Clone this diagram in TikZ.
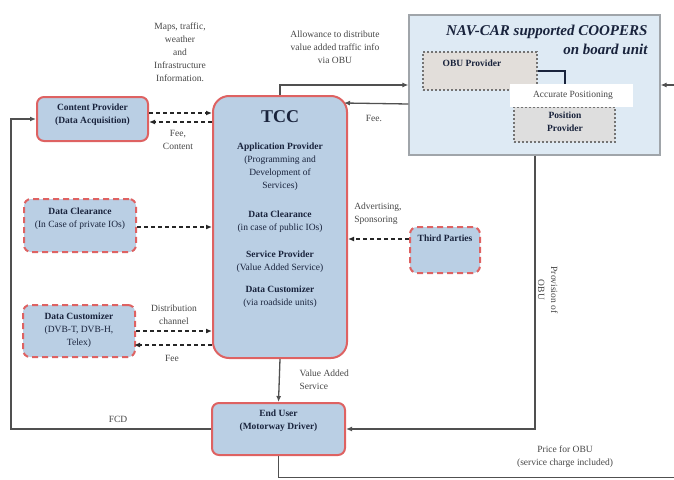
\documentclass[tikz,border=0pt]{standalone}
\usepackage{fontspec}
\setmainfont{Liberation Serif}
\usetikzlibrary{arrows.meta,calc}
\definecolor{boxblue}{RGB}{186,207,228}
\definecolor{redb}{RGB}{222,98,98}
\definecolor{navfill}{RGB}{222,234,244}
\definecolor{navedge}{RGB}{160,165,170}
\definecolor{obufill}{RGB}{226,222,218}
\definecolor{ppfill}{RGB}{222,222,222}
\definecolor{ink}{RGB}{25,35,60}
\definecolor{lab}{RGB}{70,70,70}
\definecolor{wire}{RGB}{80,80,80}
\begin{document}
\begin{tikzpicture}[x=1pt,y=-1pt,
  font=\fontsize{9.5}{13}\selectfont,
  solidbox/.style={draw=redb, line width=2pt, fill=boxblue, rounded corners=7pt, inner sep=0pt},
  dashbox/.style={solidbox, dash pattern=on 6pt off 4pt},
  bigbox/.style={solidbox, rounded corners=16pt},
  dotbox/.style={draw=wire!80, line width=1.3pt, dash pattern=on 2pt off 2pt, inner sep=0pt},
  intext/.style={align=center, text=ink},
  lbl/.style={align=center, text=lab},
  conn/.style={draw=wire, line width=1.3pt, -{Latex[length=6pt,width=5pt]}},
  dconn/.style={draw=black!85, line width=1.2pt, dash pattern=on 4pt off 3pt, -{Latex[length=6pt,width=5pt]}}
]
\useasboundingbox (0,0) rectangle (674,479);

% NAV-CAR unit
\node[draw=navedge, line width=1.2pt, fill=navfill, minimum width=251pt, minimum height=140pt, inner sep=0pt] (nav) at (534.5,85) {};
\node[anchor=east, font=\bfseries\itshape\fontsize{15}{19}\selectfont, text=ink, align=right] (navt) at (651,40) {NAV-CAR supported COOPERS\\on board unit};
\node[dotbox, fill=obufill, minimum width=114pt, minimum height=38pt] (obu) at (480,71) {};
\node[intext, font=\bfseries\fontsize{9.5}{13}\selectfont] (obut) at (472,63) {OBU Provider};
\node[dotbox, fill=ppfill, minimum width=101pt, minimum height=35pt] (pp) at (564.5,124.5) {};
\node[intext, font=\bfseries\fontsize{9.5}{13}\selectfont] (ppt) at (565,122) {Position\\Provider};
\node[fill=white, minimum width=123pt, minimum height=23pt, inner sep=0pt] (ap) at (571.5,95.5) {};
\node[lbl, text=lab] (apt) at (573,95.5) {Accurate Positioning};
\coordinate (brx) at (565,0);
\draw[line width=1.6pt, draw=ink] (obu.east) -| (ap.north -| brx);

% main boxes
\node[solidbox, minimum width=111pt, minimum height=44pt] (cp) at (92.5,119) {};
\node[intext, font=\bfseries\fontsize{9.5}{13}\selectfont] (cpt) at (92.5,115) {Content Provider\\(Data Acquisition)};

\node[bigbox, minimum width=134pt, minimum height=262pt] (tcc) at (280,227) {};
\node[text=ink, font=\bfseries\fontsize{18}{20}\selectfont] (tcct) at (280,117) {TCC};
\node[intext] (t1) at (280,166.5) {\textbf{Application Provider}\\(Programming and\\Development of\\Services)};
\node[intext] (t2) at (280,221.5) {\textbf{Data Clearance}\\(in case of public IOs)};
\node[intext] (t3) at (280,261.5) {\textbf{Service Provider}\\(Value Added Service)};
\node[intext] (t4) at (280,297) {\textbf{Data Customizer}\\(via roadside units)};

\node[dashbox, minimum width=112pt, minimum height=53pt] (dcl) at (80,225.5) {};
\node[intext] (dclt) at (80,218.5) {\textbf{Data Clearance}\\(In Case of private IOs)};

\node[dashbox, minimum width=112pt, minimum height=52pt] (dcu) at (79,331) {};
\node[intext] (dcut) at (79,330) {\textbf{Data Customizer}\\(DVB-T, DVB-H,\\Telex)};

\node[dashbox, minimum width=70pt, minimum height=46pt] (tp) at (445,250) {};
\node[intext, font=\bfseries\fontsize{9.5}{13}\selectfont] (tpt) at (445,238) {Third Parties};

\node[solidbox, minimum width=133pt, minimum height=52pt] (eu) at (278.5,429) {};
\node[intext, font=\bfseries\fontsize{9.5}{13}\selectfont] (eut) at (278.5,421) {End User\\(Motorway Driver)};

% helper coordinates
\coordinate (lft) at (11,0);
\coordinate (rx) at (535,0);
\coordinate (br) at (676,477.5);
\coordinate (cpy1) at (0,113);
\coordinate (cpy2) at (0,122);
\coordinate (dcly) at (0,227);
\coordinate (tpy) at (0,239);
\coordinate (dcy2) at (0,345);
\coordinate (feey) at (0,104);

% connectors
\draw[conn] (eu.west) -- (eu.west -| lft) |- (cp.west);
\draw[conn] (nav.south -| rx) |- (eu.east);
\draw[conn] (tcc.south) -- (eu.north);
\draw[conn] (tcc.north) |- (nav.west);
\draw[conn] (nav.west |- feey) -- ($(tcc.north east)+(-4,8)$);
\draw[conn] (eu.south) |- (br) |- (nav.east);

\draw[dconn] (cp.east |- cpy1) -- (tcc.west |- cpy1);
\draw[dconn] (tcc.west |- cpy2) -- (cp.east |- cpy2);
\draw[dconn] (dcl.east |- dcly) -- (tcc.west |- dcly);
\draw[dconn] (tp.west |- tpy) -- (tcc.east |- tpy);
\draw[dconn] (dcu.east) -- (dcu.east -| tcc.west);
\draw[dconn] (tcc.west |- dcy2) -- ($(dcu.east |- dcy2)+(-2,0)$);

% labels
\node[lbl] (l1) at (180,52) {Maps, traffic,\\weather\\and\\Infrastructure\\Information.};
\node[lbl] (l2) at (178,140) {Fee,\\Content};
\node[lbl] (l3) at (335,47) {Allowance to distribute\\value added traffic info\\via OBU};
\node[lbl] (l4) at (374,118) {Fee.};
\node[lbl, align=left] (l5) at (378,214) {Advertising,\\Sponsoring};
\node[lbl] (l6) at (174,315) {Distribution\\channel};
\node[lbl] (l7) at (172,358) {Fee};
\node[lbl, align=left, anchor=west] (l8) at (296,380) {Value Added\\Service};
\node[lbl] (l9) at (118,419) {FCD};
\node[lbl] (l10) at (565,457) {Price for OBU\\(service charge included)};
\node[lbl, rotate=-90] (l11) at (548,290) {Provision of\\OBU};
\end{tikzpicture}
\end{document}
